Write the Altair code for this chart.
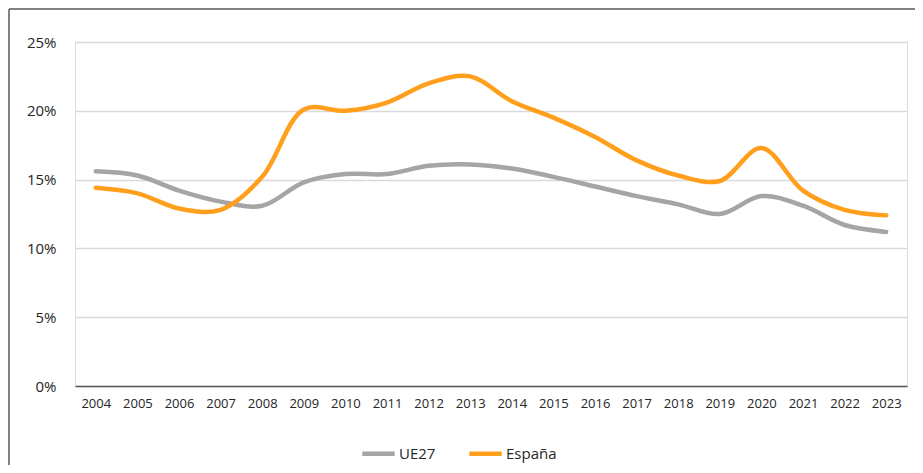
import altair as alt
import pandas as pd

years = [str(y) for y in range(2004, 2024)]
ue27 = [15.6, 15.3, 14.2, 13.4, 13.1, 14.8, 15.4, 15.4, 16.0, 16.1, 15.8, 15.2, 14.5, 13.8, 13.2, 12.5, 13.8, 13.1, 11.7, 11.2]
espana = [14.4, 14.0, 12.9, 12.8, 15.2, 20.1, 20.0, 20.6, 22.0, 22.5, 20.7, 19.5, 18.1, 16.4, 15.3, 14.9, 17.3, 14.2, 12.8, 12.4]
series = ["UE27", "España"]
colors = ["#A5A5A5", "#FF9F1C"]

rows = []
for name, vals in zip(series, [ue27, espana]):
    for y, v in zip(years, vals):
        rows.append({"Año": y, "Serie": name, "Valor": v / 100})
df = pd.DataFrame(rows)

FONT = "Open Sans"

lines = alt.Chart(df).mark_line(
    interpolate="catmull-rom", strokeWidth=4.5, strokeCap="round"
).encode(
    x=alt.X("Año:O", sort=years, title=None,
            scale=alt.Scale(paddingOuter=0.5, paddingInner=0),
            axis=alt.Axis(labelAngle=0, ticks=False, domain=True, domainColor="#595959",
                          domainWidth=1.5, labelPadding=11, labelFont=FONT, labelFontSize=13,
                          labelColor="#262626", grid=False)),
    y=alt.Y("Valor:Q", title=None,
            scale=alt.Scale(domain=[0, 0.25], nice=False),
            axis=alt.Axis(values=[0, 0.05, 0.10, 0.15, 0.20, 0.25], format=".0%",
                          domain=False, ticks=False, labelPadding=19, labelFont=FONT,
                          labelFontSize=15, labelColor="#262626", gridColor="#D9D9D9",
                          gridWidth=1.5)),
    color=alt.Color("Serie:N", sort=series, title=None,
                    scale=alt.Scale(domain=series, range=colors),
                    legend=alt.Legend(orient="none", legendX=285, legendY=393,
                                      direction="horizontal", symbolType="stroke",
                                      symbolStrokeWidth=4.5, symbolSize=1050,
                                      labelFont=FONT, labelFontSize=15, labelColor="#262626",
                                      columnPadding=24, labelOffset=2)),
)

frame_df = pd.DataFrame({"a": [0]})
left_rule = alt.Chart(frame_df).mark_rule(color="#595959", strokeWidth=1.5).encode(
    x=alt.value(-66), y=alt.value(-33), y2=alt.value(500)
)
top_rule = alt.Chart(frame_df).mark_rule(color="#595959", strokeWidth=1.5).encode(
    x=alt.value(-66), x2=alt.value(900), y=alt.value(-33)
)

chart = alt.layer(lines, left_rule, top_rule).properties(
    width=832, height=344,
    autosize=alt.AutoSizeParams(type="none"),
    padding={"left": 67, "top": 34, "right": 8, "bottom": 79},
).configure_view(stroke=None).configure(background="white")

chart.save("out.html", embed_options={"renderer": "svg", "actions": False})
